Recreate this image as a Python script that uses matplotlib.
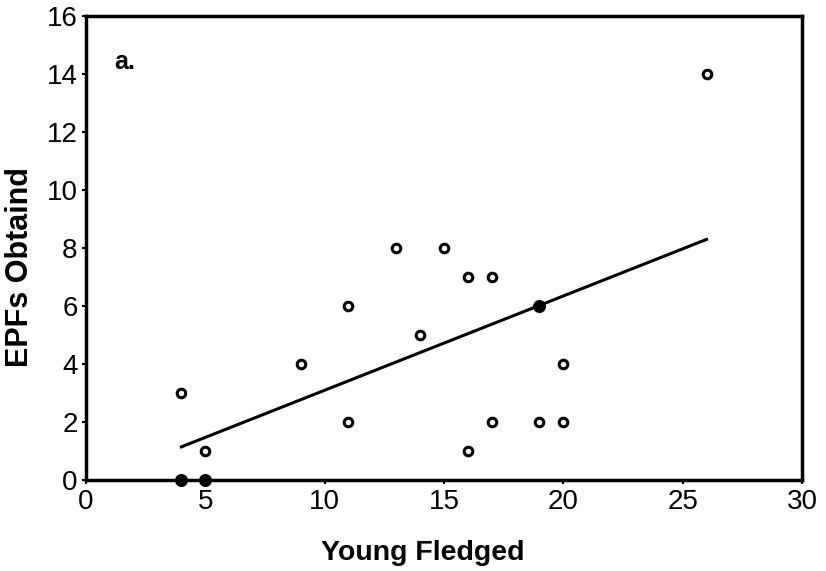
import numpy as np
import matplotlib.pyplot as plt

plt.rcParams['font.family'] = ['Liberation Sans', 'DejaVu Sans']

# --- Data ---
open_x = [4, 5, 9, 11, 11, 13, 14, 15, 16, 16, 17, 17, 19, 20, 20, 26]
open_y = [3, 1, 4, 6, 2, 8, 5, 8, 7, 1, 7, 2, 2, 2, 4, 14]
# filled points (overlapping observations)
filled_x = [4, 5, 19]
filled_y = [0, 0, 6]
# fitted regression line endpoints
fit_x = [4, 26]
fit_y = [1.15, 8.3]

x_ticks = [0, 5, 10, 15, 20, 25, 30]
y_ticks = [0, 2, 4, 6, 8, 10, 12, 14, 16]

fig = plt.figure(figsize=(8.26, 5.71), dpi=100)
ax = fig.add_axes([0.104, 0.159, 0.867, 0.813])

ax.plot(fit_x, fit_y, color='black', linewidth=2.2, zorder=2)
ax.scatter(open_x, open_y, s=38, facecolors='white', edgecolors='black',
           linewidths=2.2, zorder=3, clip_on=False)
ax.scatter(filled_x, filled_y, s=70, color='black', zorder=3, clip_on=False)

ax.set_xlim(0, 30)
ax.set_ylim(0, 16)
ax.set_xticks(x_ticks)
ax.set_yticks(y_ticks)
ax.tick_params(direction='out', length=3, width=1.5, labelsize=20, pad=3)

for sp in ax.spines.values():
    sp.set_linewidth(2.5)

ax.set_xlabel('Young Fledged', fontsize=20.5, fontweight='bold')
ax.set_ylabel('EPFs Obtaind', fontsize=22, fontweight='bold')
ax.xaxis.set_label_coords(0.47, -0.128)
ax.yaxis.set_label_coords(-0.071, 0.46)
ax.text(1.2, 14.4, 'a.', fontsize=18, fontweight='bold', va='center')

fig.savefig('out.png', dpi=100)
